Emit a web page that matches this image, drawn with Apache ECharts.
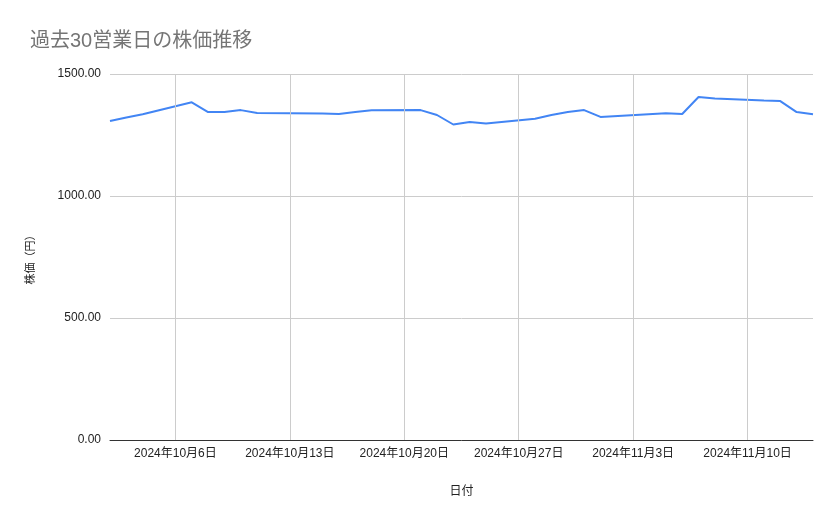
<!DOCTYPE html>
<html>
<head>
<meta charset="utf-8">
<script src="https://cdn.jsdelivr.net/npm/echarts@6/dist/echarts.min.js"></script>
<style>
  html, body { margin: 0; padding: 0; background: #fff; }
  #main { width: 839px; height: 519px; }
</style>
</head>
<body>
<div id="main"></div>
<script>
// 営業日（祝日 10/14, 11/4 は除く）
var dates = ['2024-10-02','2024-10-03','2024-10-04','2024-10-07','2024-10-08','2024-10-09','2024-10-10','2024-10-11',
  '2024-10-15','2024-10-16','2024-10-17','2024-10-18','2024-10-21','2024-10-22','2024-10-23','2024-10-24','2024-10-25',
  '2024-10-28','2024-10-29','2024-10-30','2024-10-31','2024-11-01','2024-11-05','2024-11-06','2024-11-07','2024-11-08',
  '2024-11-11','2024-11-12','2024-11-13','2024-11-14'];
var prices = [1307, 1322, 1335, 1384, 1344, 1344, 1352, 1340,
  1338, 1336, 1344, 1351, 1352, 1332, 1293, 1303, 1297,
  1317, 1332, 1344, 1352, 1324, 1339, 1336, 1406, 1400,
  1391, 1389, 1344, 1335];
// 目盛り（毎週日曜）
var tickDates = ['2024-10-06','2024-10-13','2024-10-20','2024-10-27','2024-11-03','2024-11-10'];

var FONT = '"Liberation Sans", "Noto Sans CJK JP", sans-serif';

var toTime = function(s) {
  var p = s.split('-');
  return new Date(+p[0], +p[1] - 1, +p[2]).getTime();
};

var chart = echarts.init(document.getElementById('main'));
var option = {
  animation: false,
  title: {
    text: '過去30営業日の株価推移',
    left: 25,
    top: 26,
    textStyle: { fontFamily: FONT, fontSize: 20, fontWeight: 'normal', color: '#757575' }
  },
  grid: { left: 110, right: 26, top: 74, bottom: 79 },
  xAxis: {
    type: 'value',
    min: toTime(dates[0]),
    max: toTime(dates[dates.length - 1]),
    name: '日付',
    nameLocation: 'middle',
    nameGap: 46,
    nameTextStyle: { fontFamily: FONT, fontSize: 12, color: '#222' },
    axisLine: { show: true, lineStyle: { color: '#333', width: 1 } },
    axisTick: { show: false, customValues: tickDates.map(toTime) },
    axisLabel: {
      customValues: tickDates.map(toTime),
      fontFamily: FONT, fontSize: 12, color: '#222', margin: 8,
      formatter: function(v) {
        var d = new Date(v);
        return d.getFullYear() + '年' + (d.getMonth() + 1) + '月' + d.getDate() + '日';
      }
    },
    splitLine: { show: false }
  },
  yAxis: {
    type: 'value',
    min: 0,
    max: 1500,
    interval: 500,
    name: '株価（円）',
    nameLocation: 'middle',
    nameGap: 74,
    nameTextStyle: { fontFamily: FONT, fontSize: 11, color: '#222' },
    axisLine: { show: false },
    axisTick: { show: false },
    axisLabel: {
      fontFamily: FONT, fontSize: 12, color: '#222', margin: 9,
      formatter: function(v) { return v.toFixed(2); }
    },
    splitLine: { lineStyle: { color: '#cccccc', width: 1 } }
  },
  series: [
    {
      // 縦の目盛り線（週ごと）
      type: 'line',
      z: 1,
      data: [],
      silent: true,
      markLine: {
        silent: true,
        symbol: 'none',
        label: { show: false },
        lineStyle: { color: '#cccccc', width: 1, type: 'solid' },
        data: tickDates.map(function(d) { return { xAxis: toTime(d) }; })
      }
    },
    {
      type: 'line',
      z: 2,
      data: dates.map(function(d, i) { return [toTime(d), prices[i]]; }),
      showSymbol: false,
      lineStyle: { color: '#4285F4', width: 2 },
      itemStyle: { color: '#4285F4' }
    }
  ]
};
chart.setOption(option);
</script>
</body>
</html>
